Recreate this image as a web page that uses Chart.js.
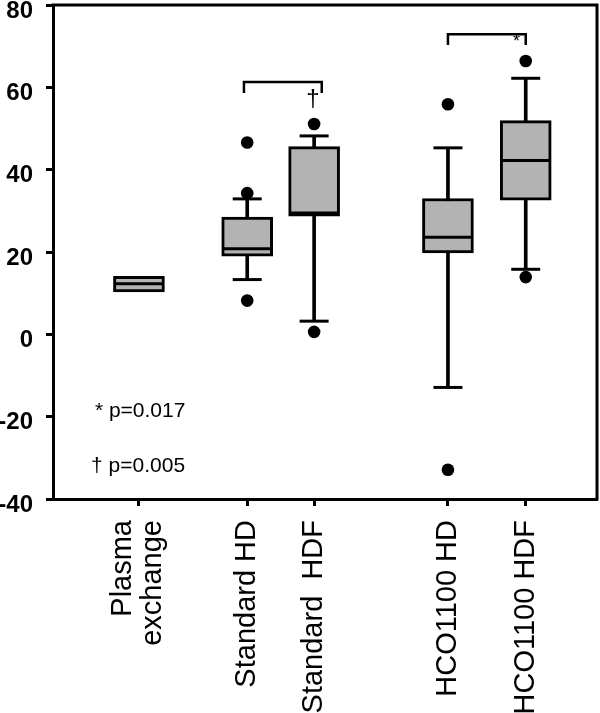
<!DOCTYPE html>
<html>
<head>
<meta charset="utf-8">
<script src="https://cdn.jsdelivr.net/npm/chart.js@4/dist/chart.umd.min.js"></script>
<style>
html,body{margin:0;padding:0;background:#fff;}
canvas{display:block;}
</style>
</head>
<body>
<canvas id="c" width="600" height="713"></canvas>
<script>
// ---- data ----
const categories = ['Plasma exchange', 'Standard HD', 'Standard  HDF', 'HCO1100 HD', 'HCO1100 HDF'];
const xPos = [15.8, 35.7, 48.0, 72.6, 86.9];            // category positions on the x scale (0-100)
const q1 = [10.3, 19.0, 28.7, 19.8, 32.6];
const median = [12.3, 20.8, 29.5, 23.6, 42.2];
const q3 = [14.1, 28.5, 45.6, 33.0, 51.9];
const whiskerLow = [null, 13.3, 3.2, -12.9, 15.8];
const whiskerHigh = [null, 32.9, 48.2, 45.3, 62.2];
const outliers = [[], [46.6, 34.3, 8.2], [51.1, 0.6], [55.9, -32.9], [66.4, 13.9]];
const yTicks = [-40, -20, 0, 20, 40, 60, 80];
const bracket1X = [35.1, 49.4], bracket1Y = [58.6, 61.3];
const bracket2X = [72.6, 86.9], bracket2Y = [70.3, 72.9];
const sigMarks = [{text: '\u2020', x: 47.8, y: 57.0, size: 24}, {text: '*', x: 85.2, y: 71.1, size: 18}];
const pNotes = [{text: '* p=0.017', x: 7.7, y: -20.2}, {text: '\u2020 p=0.005', x: 7.0, y: -33.4}];
const plasmaLabel = ['Plasma', 'exchange'];
const plasmaLabelShift = 3.0;  // two-line label centred on its tick

// ---- derived datasets ----
const boxData = xPos.map((x, i) => ({x: x, y: [q1[i], q3[i]]}));
const whiskerData = xPos.map((x, i) => whiskerLow[i] === null ? null : ({x: x, y: [whiskerLow[i], whiskerHigh[i]]})).filter(d => d);
const medianData = xPos.map((x, i) => ({x: x, y: median[i]}));
const capData = [];
xPos.forEach((x, i) => { if (whiskerLow[i] !== null) { capData.push({x: x, y: whiskerLow[i]}); capData.push({x: x, y: whiskerHigh[i]}); } });
const outData = [];
xPos.forEach((x, i) => outliers[i].forEach(v => outData.push({x: x, y: v})));
const bracket = (bx, by) => [{x: bx[0], y: by[0]}, {x: bx[0], y: by[1]}, {x: bx[1], y: by[1]}, {x: bx[1], y: by[0]}];

// x tick list: a label-only tick for the two-line label, then the category ticks
const xTickVals = [xPos[0] - plasmaLabelShift].concat(xPos);
const xTickLabels = [plasmaLabel, ''].concat(categories.slice(1));

const framePlugin = {
  id: 'frame',
  afterDatasetsDraw(chart) {
    const {ctx, chartArea: a, scales: {x, y}} = chart;
    ctx.save();
    ctx.strokeStyle = '#000';
    ctx.lineWidth = 3;
    ctx.beginPath();
    ctx.moveTo(a.left - 1.5, a.top);
    ctx.lineTo(a.right, a.top);
    ctx.lineTo(a.right, a.bottom + 1.5);
    ctx.stroke();
    ctx.fillStyle = '#000';
    ctx.textAlign = 'center';
    ctx.textBaseline = 'middle';
    sigMarks.forEach(m => {
      ctx.font = m.size + 'px "Liberation Sans", Arial, sans-serif';
      ctx.fillText(m.text, x.getPixelForValue(m.x), y.getPixelForValue(m.y));
    });
    ctx.textAlign = 'left';
    ctx.textBaseline = 'alphabetic';
    ctx.font = '21px "Liberation Sans", Arial, sans-serif';
    pNotes.forEach(m => ctx.fillText(m.text, x.getPixelForValue(m.x), y.getPixelForValue(m.y)));
    ctx.restore();
  }
};

new Chart(document.getElementById('c'), {
  type: 'bar',
  data: {
    datasets: [
      {type: 'bar', data: whiskerData, backgroundColor: '#000', borderWidth: 0, barThickness: 3, grouped: false, order: 6},
      {type: 'bar', data: boxData, backgroundColor: '#b3b3b3', borderColor: '#000', borderWidth: 3, borderSkipped: false, barThickness: 51, grouped: false, order: 5},
      {type: 'scatter', data: medianData, pointStyle: 'line', pointRadius: 24, borderColor: '#000', borderWidth: 3, order: 4},
      {type: 'scatter', data: capData, pointStyle: 'line', pointRadius: 14.5, borderColor: '#000', borderWidth: 3, order: 3},
      {type: 'scatter', data: outData, pointStyle: 'circle', pointRadius: 6.3, backgroundColor: '#000', borderWidth: 0, order: 2},
      {type: 'line', data: bracket(bracket1X, bracket1Y), borderColor: '#000', borderWidth: 2.5, pointRadius: 0, tension: 0, fill: false, order: 1},
      {type: 'line', data: bracket(bracket2X, bracket2Y), borderColor: '#000', borderWidth: 2.5, pointRadius: 0, tension: 0, fill: false, order: 1}
    ]
  },
  options: {
    responsive: false,
    animation: false,
    events: [],
    layout: {autoPadding: false, padding: {top: 5, right: 3, left: 0, bottom: 0}},
    plugins: {legend: {display: false}, tooltip: {enabled: false}},
    scales: {
      x: {
        type: 'linear', min: 0, max: 100, offset: false,
        afterBuildTicks: s => { s.ticks = xTickVals.map(v => ({value: v})); },
        afterFit: s => { s.height = 214; s.paddingLeft = 0; s.paddingRight = 0; s.paddingTop = 0; s.paddingBottom = 0; },
        border: {display: true, color: '#000', width: 3},
        grid: {display: true, offset: false, drawOnChartArea: false, drawTicks: true, tickLength: 7, tickWidth: 3,
               tickColor: c => (c.index === 0 ? 'rgba(0,0,0,0)' : '#000')},
        ticks: {
          autoSkip: false, minRotation: 90, maxRotation: 90, padding: 14,
          color: '#000',
          font: {family: '"Liberation Sans", Arial, sans-serif', size: 29, lineHeight: 1.05},
          callback: (v, i) => xTickLabels[i]
        }
      },
      y: {
        type: 'linear', min: -40, max: 80,
        afterBuildTicks: s => { s.ticks = yTicks.map(v => ({value: v})); },
        afterFit: s => { s.width = 53; s.paddingLeft = 0; s.paddingRight = 0; s.paddingTop = 0; s.paddingBottom = 0; },
        border: {display: true, color: '#000', width: 3},
        grid: {display: true, drawOnChartArea: false, drawTicks: true, tickLength: 7, tickWidth: 3, tickColor: '#000'},
        ticks: {
          padding: 13, labelOffset: 6, color: '#000',
          font: {family: '"Liberation Sans", Arial, sans-serif', size: 24, weight: 'bold'},
          callback: v => String(v)
        }
      }
    }
  },
  plugins: [framePlugin]
});
</script>
</body>
</html>
